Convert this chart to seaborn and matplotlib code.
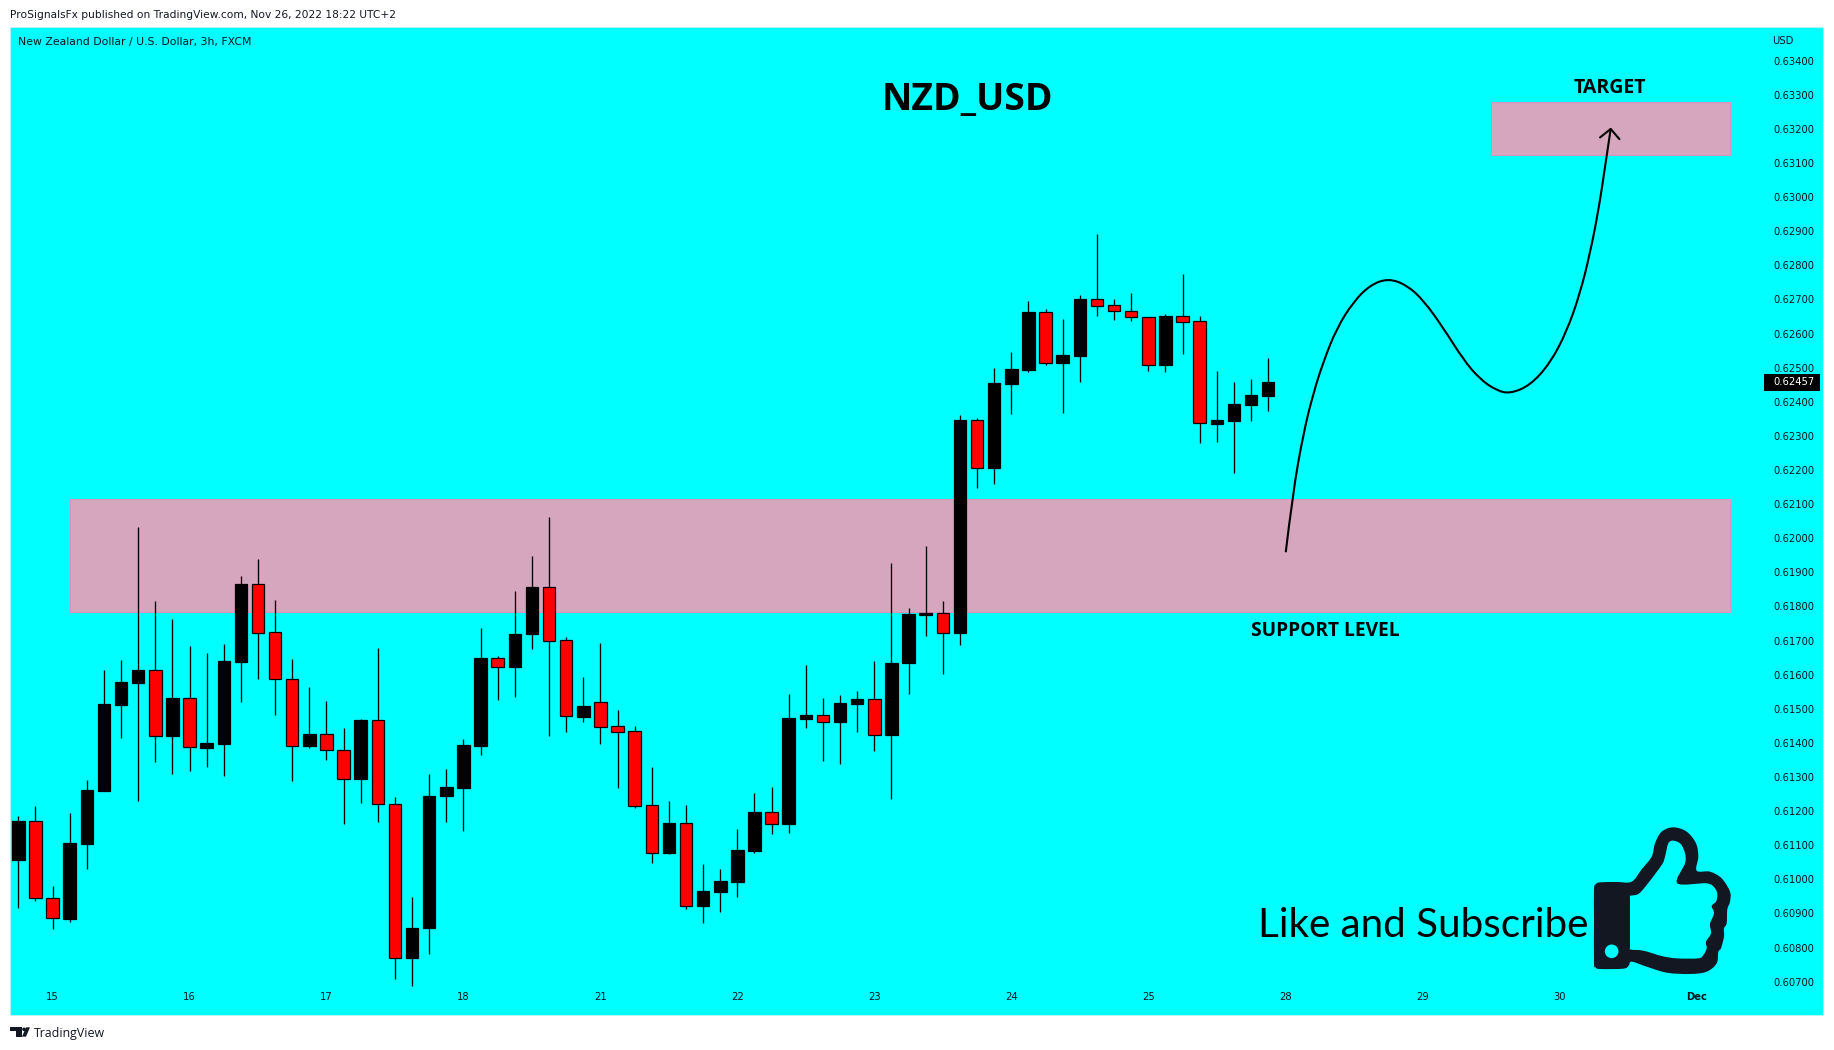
import numpy as np
import pandas as pd
import matplotlib
matplotlib.use("Agg")
import matplotlib.pyplot as plt
import seaborn as sns
from matplotlib.patches import Circle, PathPatch, Polygon, Rectangle
from matplotlib.path import Path
from matplotlib.transforms import Affine2D

# NZD/USD 3h candles, in units of 0.00001
highs = [61186, 61215, 60981, 61195, 61291, 61614, 61643, 62033, 61816, 61763, 61684, 61664, 61690, 61890,
         61939, 61819, 61646, 61564, 61523, 61444, 61470, 61678, 61242, 60948, 61309, 61324, 61412, 61737,
         61655, 61846, 61948, 62063, 61711, 61593, 61693, 61497, 61450, 61330, 61230, 61218, 61045, 61031,
         61148, 61253, 61271, 61544, 61629, 61532, 61541, 61552, 61640, 61928, 61796, 61977, 61816,
         62362, 62353, 62499, 62546, 62696, 62672, 62643, 62713, 62892, 62702, 62719, 62649, 62658, 62775,
         62652, 62491, 62458, 62467, 62529]
body_tops = [61171, 61170, 60945, 61106, 61261, 61514, 61579, 61614, 61613, 61531, 61531, 61400, 61640, 61866,
             61865, 61724, 61587, 61426, 61425, 61378, 61467, 61466, 61220, 60858, 61245, 61271, 61394, 61649,
             61648, 61720, 61857, 61856, 61701, 61508, 61519, 61449, 61434, 61217, 61165, 61164, 60966, 60995,
             61086, 61198, 61197, 61473, 61482, 61481, 61517, 61529, 61528, 61634, 61778, 61781, 61780,
             62347, 62346, 62455, 62496, 62663, 62662, 62537, 62702, 62701, 62683, 62665, 62648, 62652, 62651,
             62636, 62347, 62394, 62420, 62457]
body_bottoms = [61058, 60945, 60886, 60885, 61105, 61260, 61512, 61577, 61419, 61419, 61387, 61386, 61398, 61638,
                61723, 61586, 61392, 61392, 61378, 61295, 61295, 61220, 60768, 60768, 60856, 61243, 61269, 61392,
                61624, 61624, 61718, 61700, 61478, 61477, 61448, 61433, 61216, 61076, 61076, 60923, 60923, 60964,
                60993, 61084, 61161, 61161, 61471, 61460, 61460, 61515, 61424, 61424, 61633, 61776, 61723,
                61723, 62207, 62207, 62453, 62494, 62515, 62515, 62535, 62682, 62665, 62648, 62509, 62509, 62635,
                62337, 62336, 62345, 62392, 62418]
lows = [60917, 60938, 60853, 60876, 61029, 61260, 61413, 61231, 61345, 61310, 61319, 61328, 61304, 61521,
        61586, 61483, 61287, 61386, 61351, 61161, 61225, 61169, 60709, 60686, 60782, 61169, 61143, 61366,
        61527, 61536, 61674, 61421, 61433, 61462, 61398, 61269, 61210, 61049, 61073, 60914, 60873, 60905,
        60949, 61078, 61134, 61137, 61445, 61348, 61339, 61433, 61377, 61237, 61542, 61712, 61603,
        61688, 62146, 62160, 62365, 62486, 62509, 62368, 62459, 62653, 62641, 62638, 62489, 62486, 62541,
        62280, 62283, 62190, 62345, 62374]
# 1-based numbers of the red (falling) bars
red_bars = [2, 3, 9, 11, 15, 16, 17, 19, 20, 22, 23, 29, 32, 33, 35, 36, 37, 38, 40, 45, 48, 51, 55, 57,
            61, 64, 65, 66, 67, 69, 70]

price_ticks = [0.607, 0.608, 0.609, 0.610, 0.611, 0.612, 0.613, 0.614, 0.615, 0.616, 0.617, 0.618, 0.619, 0.620,
               0.621, 0.622, 0.623, 0.624, 0.625, 0.626, 0.627, 0.628, 0.629, 0.630, 0.631, 0.632, 0.633, 0.634]
date_positions = [2, 10, 18, 26, 34, 42, 50, 58, 66, 74, 82, 90, 98]
date_labels = ["15", "16", "17", "18", "21", "22", "23", "24", "25", "28", "29", "30", "Dec"]
last_price = 0.62457

# the two zones: first bar, last bar, bottom, top
support_zone = (3.02, 99.98, 0.61784, 0.62115)
target_zone = (86.0, 99.98, 0.63125, 0.63280)

# hand drawn projection and its arrow head
path_x = [74.03, 74.44, 75.06, 75.64, 76.23, 77.01, 77.98, 78.95, 80.02, 81.10, 82.07, 83.24, 84.41, 85.38,
          86.35, 87.13, 88.30, 89.47, 90.44, 91.22, 91.80, 92.30, 92.68, 93.01]
path_y = [0.61959, 0.62132, 0.62308, 0.62425, 0.62518, 0.62616, 0.62693, 0.62742, 0.62762, 0.62742, 0.62698,
          0.62616, 0.62523, 0.62466, 0.62433, 0.62424, 0.62448, 0.62513, 0.62606, 0.62718, 0.62835, 0.62962,
          0.63089, 0.63200]
head_x = [92.39, 93.01, 93.52]
head_y = [0.63175, 0.63200, 0.63170]

CYAN = "#00FFFF"
ZONE = "#D6A5BE"
ZONE_EDGE = "#DB8FBC"
INK = "#131722"
W, H = 1834, 1050

sns.set_theme(style="white")
plt.rcParams["font.family"] = ["DejaVu Sans"]


def closed_outline(points):
    # Catmull-Rom through the points, as bezier segments
    pts = np.array(points, dtype=float)
    n = len(pts)
    verts = [pts[0]]
    codes = [Path.MOVETO]
    for i in range(n):
        p0, p1, p2, p3 = pts[i - 1], pts[i], pts[(i + 1) % n], pts[(i + 2) % n]
        verts += [p1 + (p2 - p0) / 6, p2 - (p3 - p1) / 6, p2]
        codes += [Path.CURVE4, Path.CURVE4, Path.CURVE4]
    return Path(verts, codes)


def open_curve(points):
    # quadratic segments between edge midpoints, this one stays free of wiggles
    pts = np.array(points, dtype=float)
    verts = [pts[0]]
    codes = [Path.MOVETO]
    for i in range(1, len(pts) - 1):
        end = pts[i + 1] if i == len(pts) - 2 else (pts[i] + pts[i + 1]) / 2
        verts += [pts[i], end]
        codes += [Path.CURVE3, Path.CURVE3]
    return Path(verts, codes)


df = pd.DataFrame({"bar": np.arange(len(highs)), "high": highs, "top": body_tops,
                   "bottom": body_bottoms, "low": lows}).astype(float)
df[["high", "top", "bottom", "low"]] /= 1e5
df["height"] = df["top"] - df["bottom"]
df["red"] = df["bar"].astype(int).add(1).isin(red_bars)

fig = plt.figure(figsize=(W / 100, H / 100), dpi=100, facecolor="white")
ax = fig.add_axes([10 / W, 1 - 1014.5 / H, 1813 / W, 987.5 / H], facecolor=CYAN)

for x0, x1, y0, y1 in [support_zone, target_zone]:
    ax.add_patch(Rectangle((x0, y0), x1 - x0, y1 - y0, facecolor=ZONE, edgecolor=ZONE_EDGE, linewidth=0.7, zorder=1))

ax.vlines(df["bar"], df["low"], df["high"], color="black", linewidth=0.95, zorder=2)
for is_red, colour in [(False, "black"), (True, "#FF0000")]:
    part = df[df["red"] == is_red]
    sns.barplot(data=part, x="bar", y="height", bottom=part["bottom"].values, native_scale=True, width=0.73,
                color=colour, saturation=1, edgecolor="black", linewidth=0.9, errorbar=None, ax=ax, zorder=3)

ax.add_patch(PathPatch(open_curve(list(zip(path_x, path_y))), facecolor="none", edgecolor="black",
                       linewidth=1.5, capstyle="butt", zorder=4))
ax.plot(head_x, head_y, color="black", linewidth=1.5, zorder=4)

ax.set_xlim(-0.485, 105.41)
ax.set_ylim(0.606038, 0.634988)
ax.set_xlabel("")
ax.set_ylabel("")
for s in ax.spines.values():
    s.set_color("#B8F5F5")
    s.set_linewidth(0.7)

ax.set_xticks(date_positions)
ax.set_xticklabels(date_labels)
ax.yaxis.tick_right()
ax.set_yticks(price_ticks)
ax.set_yticklabels([f"{p:.5f}" for p in price_ticks])
ax.tick_params(axis="x", length=0, pad=-16, labelsize=7.2, labelcolor=INK)
ax.tick_params(axis="y", length=0, pad=-36, labelsize=7.2, labelcolor=INK)
ax.get_xticklabels()[-1].set_fontweight("bold")

# last price tag
ax.add_patch(Rectangle((101.97, last_price - 0.000245), 3.27, 0.00049, facecolor="black", edgecolor="none", zorder=5))
ax.text(102.49, last_price, f"{last_price:.5f}", color="white", fontsize=7.2, va="center", ha="left", zorder=6)


def txt(x, y, s, **kw):
    # x, y are pixel positions in the picture
    return fig.text(x / W, 1 - y / H, s, **kw)


txt(10, 15, "ProSignalsFx published on TradingView.com, Nov 26, 2022 18:22 UTC+2", fontsize=7.68, va="center", color=INK)
txt(18, 42, "New Zealand Dollar / U.S. Dollar, 3h, FXCM", fontsize=7.85, va="center", color=INK)
txt(1772, 41, "USD", fontsize=7.2, va="center", color=INK)
txt(967, 100.5, "NZD_USD", fontsize=26.9, fontweight="bold", family="Open Sans", ha="center", va="center", color="black")
txt(1610, 88, "TARGET", fontsize=14, fontweight="bold", family="Open Sans", ha="center", va="center", color="black")
txt(1325.5, 631, "SUPPORT LEVEL", fontsize=13.8, fontweight="bold", family="Open Sans", ha="center", va="center", color="black")
txt(1258, 937, "Like and Subscribe", fontsize=29.1, family="Lato", ha="left", va="baseline", color="black")
txt(34, 1033, "TradingView", fontsize=8.9, family="Open Sans", va="center", color=INK)


# pixel to display transform for the drawn icons
pixel = Affine2D().scale(1, -1).translate(0, H)


def zoomed(points, left, top):
    return [(left + px_ / 3, top + py_ / 3) for px_, py_ in points]


thumb_outer = [(125, 185), (155, 148), (185, 110), (195, 70), (215, 35), (250, 22), (290, 35), (318, 70), (325, 110),
               (320, 152), (360, 155), (395, 175), (420, 215), (420, 245), (412, 268), (410, 310), (402, 325),
               (402, 350), (393, 385), (385, 395), (380, 430), (350, 455), (300, 462), (230, 458), (170, 440),
               (125, 425), (116, 437), (100, 446), (30, 447), (17, 442), (12, 428), (12, 300), (12, 208), (17, 193),
               (30, 187), (80, 186)]
thumb_inner = [(120, 240), (120, 228), (145, 222), (170, 195), (215, 135), (225, 110), (235, 70), (250, 62), (272, 72),
               (285, 100), (285, 130), (262, 190), (350, 190), (375, 205), (382, 225), (378, 245), (365, 258),
               (372, 280), (360, 312), (363, 340), (348, 365), (350, 385), (340, 405), (325, 415), (260, 415),
               (215, 408), (160, 392), (120, 388), (120, 376)]
fig.add_artist(PathPatch(closed_outline(zoomed(thumb_outer, 1590, 820)), facecolor=INK, edgecolor="none", transform=pixel))
fig.add_artist(PathPatch(closed_outline(zoomed(thumb_inner, 1590, 820)), facecolor=CYAN, edgecolor="none", transform=pixel))
fig.add_artist(Circle((1590 + 65 / 3, 820 + 394 / 3), 6.8, facecolor=CYAN, edgecolor="none", transform=pixel))

# TradingView logo
logo_t = [(30, 52), (66, 52), (66, 80), (48, 80), (48, 64), (30, 64)]
logo_7 = [(78, 52), (90, 52), (78, 80), (66, 80)]
fig.add_artist(Polygon(zoomed(logo_t, 0, 1010), closed=True, facecolor=INK, edgecolor="none", transform=pixel))
fig.add_artist(Polygon(zoomed(logo_7, 0, 1010), closed=True, facecolor=INK, edgecolor="none", transform=pixel))
fig.add_artist(Circle((72 / 3, 1010 + 58 / 3), 1.8, facecolor=INK, edgecolor="none", transform=pixel))

fig.savefig("out.png", dpi=100, facecolor="white")
